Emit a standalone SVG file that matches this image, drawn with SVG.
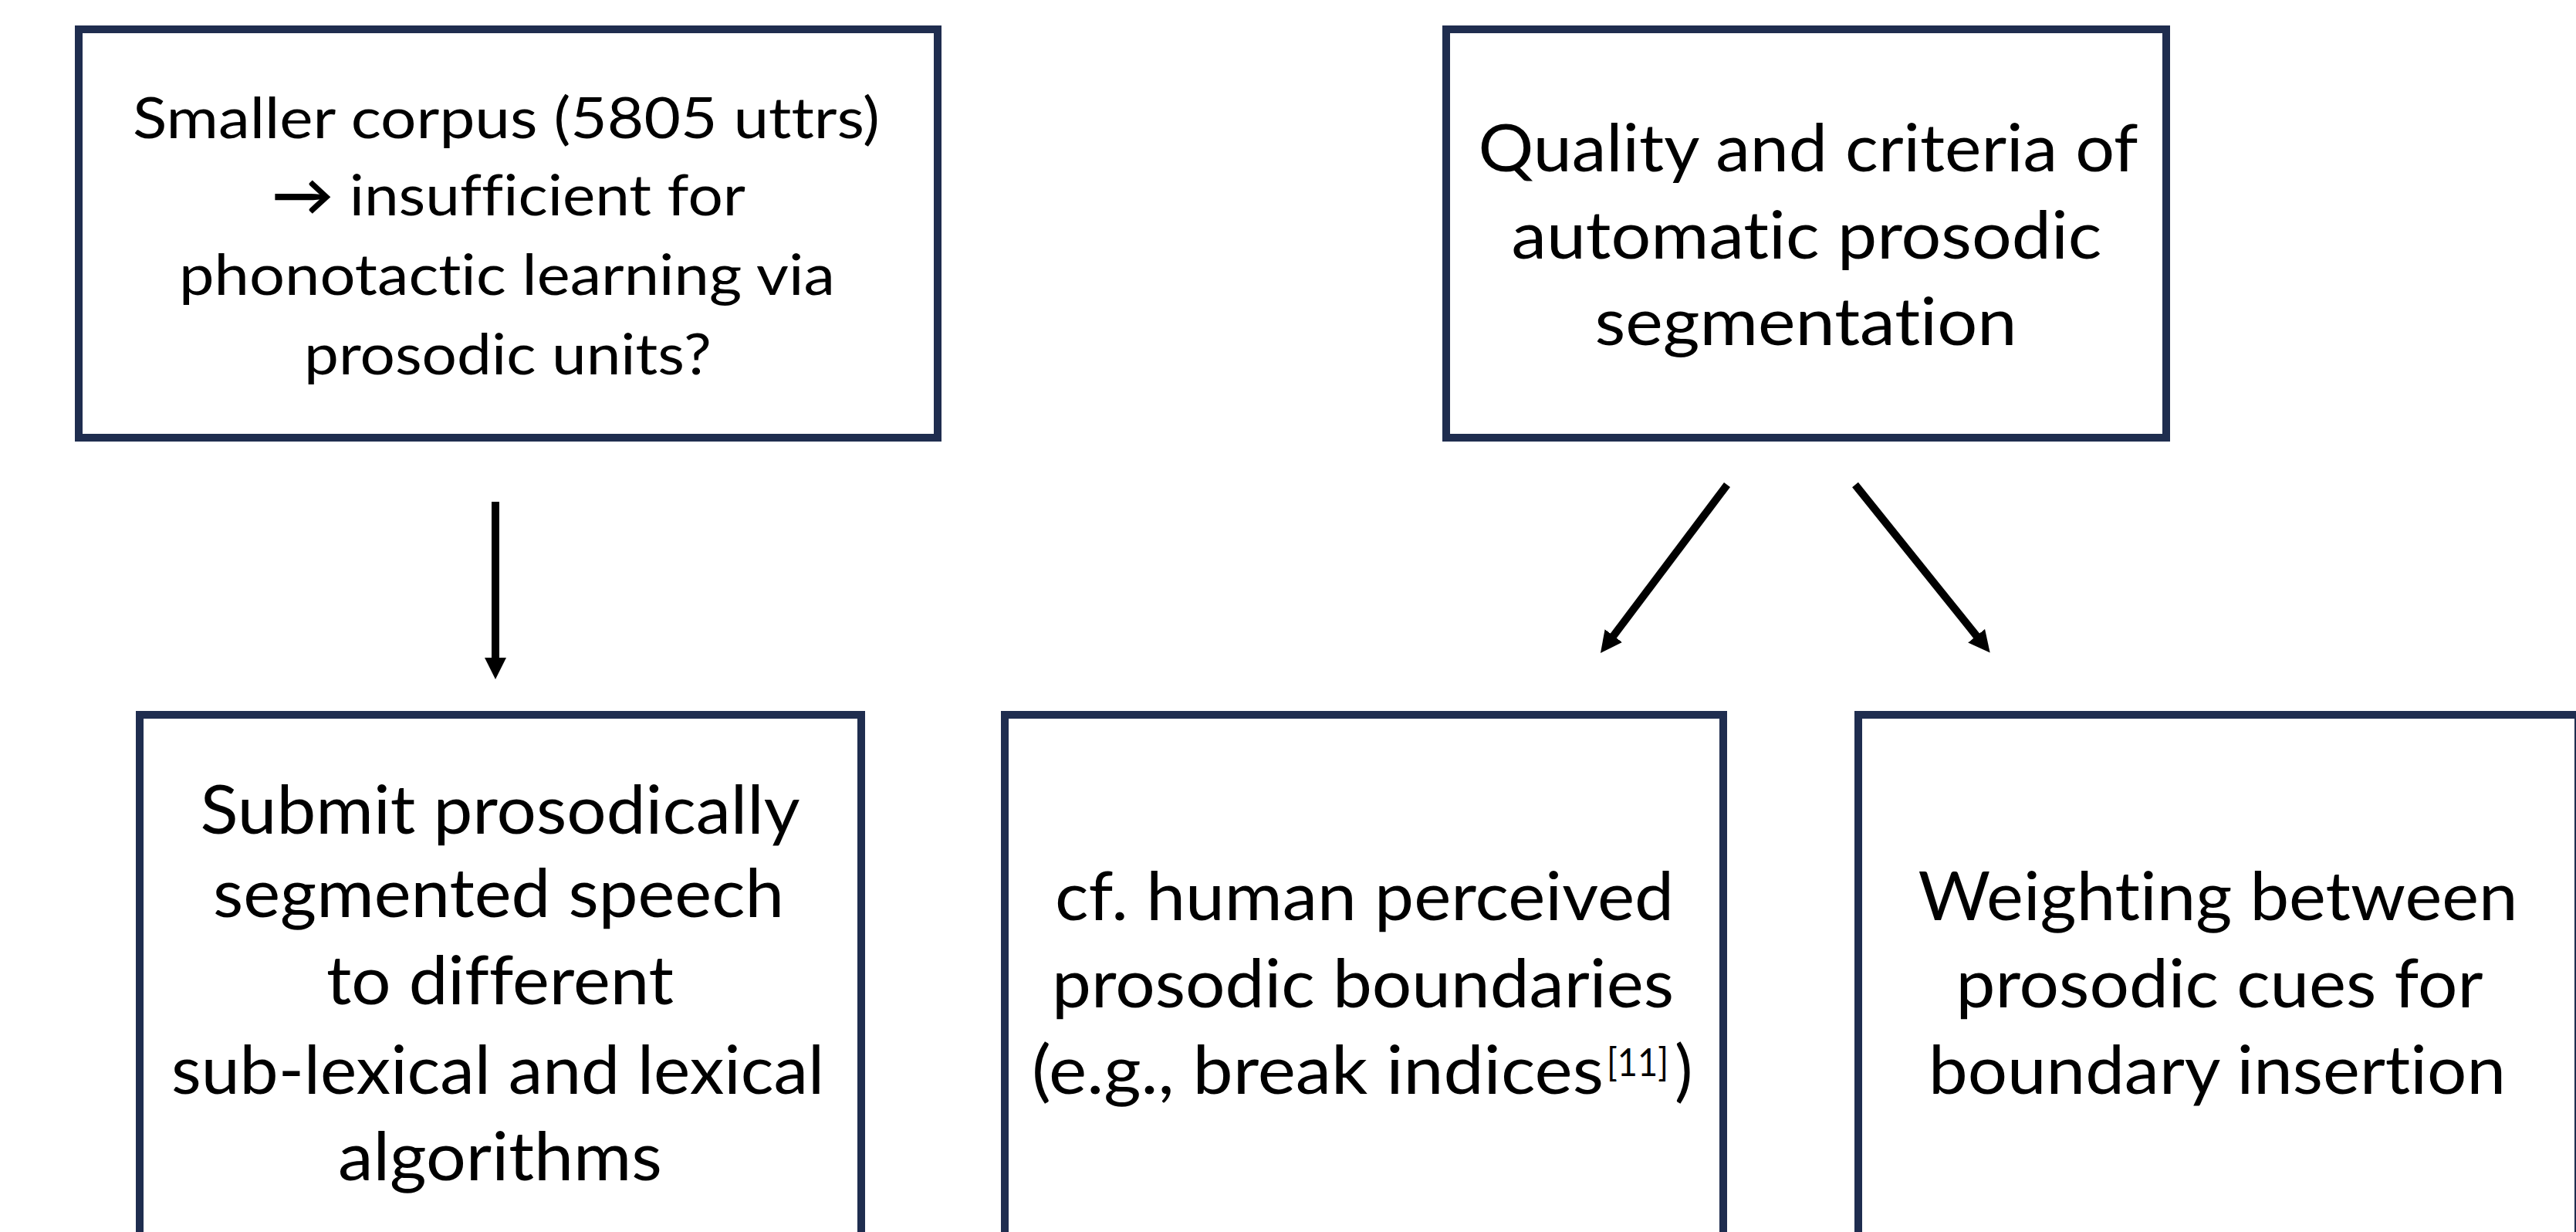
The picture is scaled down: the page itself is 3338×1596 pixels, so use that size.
<svg xmlns="http://www.w3.org/2000/svg" width="3338" height="1596" viewBox="0 0 3338 1596">
  <style>
    .box { fill: #ffffff; stroke: #1f2d4f; stroke-width: 10; }
    .t { font-family: Lato, "Open Sans", "DejaVu Sans", sans-serif; fill: #000000; text-anchor: middle; font-variant-ligatures: none; font-feature-settings: "liga" 0, "dlig" 0; }
    .s1 { font-size: 74px; }
    .s2 { font-size: 86px; }
    .s3 { font-size: 88px; }
    .conn { stroke: #000000; stroke-width: 10; fill: none; marker-end: url(#arrow); }
  </style>
  <defs>
    <marker id="arrow" markerUnits="userSpaceOnUse" viewBox="0 0 28 28" markerWidth="28" markerHeight="28" refX="3" refY="14" orient="auto">
      <path d="M0,0 L28,14 L0,28 z" fill="#000000"/>
    </marker>
  </defs>
  <rect width="3338" height="1596" fill="#ffffff"/>

  <g id="node-small-corpus">
    <rect class="box" x="102" y="38" width="1113" height="529"/>
    <text class="t s1" x="656" y="179" textLength="968" lengthAdjust="spacingAndGlyphs">Smaller corpus (5805 uttrs)</text>
    <text class="t s1" x="659" y="279" textLength="614" lengthAdjust="spacingAndGlyphs"><tspan style="font-weight:bold">→</tspan> insufficient for</text>
    <text class="t s1" x="657" y="382" textLength="850" lengthAdjust="spacingAndGlyphs">phonotactic learning via</text>
    <text class="t s1" x="658" y="485" textLength="528" lengthAdjust="spacingAndGlyphs">prosodic units?</text>
  </g>

  <g id="node-quality">
    <rect class="box" x="1874" y="38" width="933" height="529"/>
    <text class="t s2" x="2343" y="222" textLength="855" lengthAdjust="spacingAndGlyphs">Quality and criteria of</text>
    <text class="t s2" x="2341" y="335" textLength="765" lengthAdjust="spacingAndGlyphs">automatic prosodic</text>
    <text class="t s2" x="2340" y="447" textLength="547" lengthAdjust="spacingAndGlyphs">segmentation</text>
  </g>

  <g id="node-submit">
    <rect class="box" x="181" y="926" width="935" height="720"/>
    <text class="t s3" x="648" y="1080" textLength="777" lengthAdjust="spacingAndGlyphs">Submit prosodically</text>
    <text class="t s3" x="646" y="1188" textLength="740" lengthAdjust="spacingAndGlyphs">segmented speech</text>
    <text class="t s3" x="648" y="1301" textLength="450" lengthAdjust="spacingAndGlyphs">to different</text>
    <text class="t s3" x="645" y="1417" textLength="846" lengthAdjust="spacingAndGlyphs">sub-lexical and lexical</text>
    <text class="t s3" x="648" y="1529" textLength="420" lengthAdjust="spacingAndGlyphs">algorithms</text>
  </g>

  <g id="node-human">
    <rect class="box" x="1302" y="926" width="931" height="720"/>
    <text class="t s3" x="1768" y="1192" textLength="802" lengthAdjust="spacingAndGlyphs">cf. human perceived</text>
    <text class="t s3" x="1766" y="1305" textLength="806" lengthAdjust="spacingAndGlyphs">prosodic boundaries</text>
    <text class="t s3" x="1337" y="1417" style="text-anchor:start"><tspan textLength="741" lengthAdjust="spacingAndGlyphs">(e.g., break indices</tspan><tspan x="2082" y="1394" style="font-size:50px" textLength="80" lengthAdjust="spacingAndGlyphs">[11]</tspan><tspan x="2170" y="1417">)</tspan></text>
  </g>

  <g id="node-weighting">
    <rect class="box" x="2408" y="926" width="933" height="720"/>
    <text class="t s3" x="2874" y="1192" textLength="777" lengthAdjust="spacingAndGlyphs">Weighting between</text>
    <text class="t s3" x="2876" y="1305" textLength="683" lengthAdjust="spacingAndGlyphs">prosodic cues for</text>
    <text class="t s3" x="2873" y="1417" textLength="748" lengthAdjust="spacingAndGlyphs">boundary insertion</text>
  </g>

  <g id="connectors">
    <line class="conn" x1="642" y1="650" x2="642" y2="855"/>
    <line class="conn" x1="2238" y1="628" x2="2089" y2="826"/>
    <line class="conn" x1="2404" y1="628" x2="2563" y2="826"/>
  </g>
</svg>
